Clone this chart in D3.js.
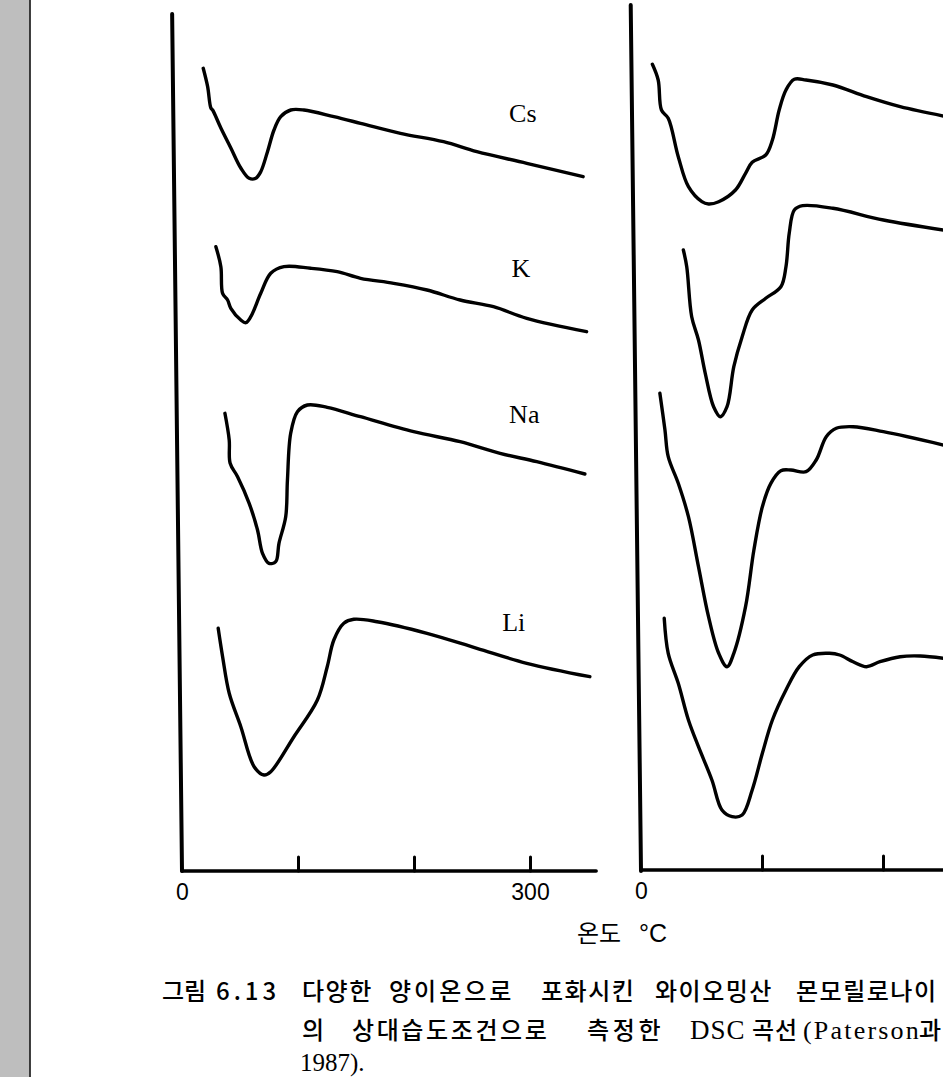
<!DOCTYPE html>
<html><head><meta charset="utf-8">
<script src="https://cdn.jsdelivr.net/npm/d3@7"></script>
<style>html,body{margin:0;padding:0;background:#fff;} svg{display:block}</style>
</head><body><svg id="c" width="943" height="1077"></svg>
<script>
// ---------- data (temperature °C, heat-flow in arbitrary units) ----------
const ions = ["Cs", "K", "Na", "Li"];
const leftTicks = [0, 100, 200, 300];
const leftTickLabels = ["0", "", "", "300"];
const rightTicks = [0, 100, 200];
const rightTickLabels = ["0", "", ""];

const leftCs = [[18.3,801.7],[22.1,783.3],[24.9,762],[26.4,760],[33.5,742],[42.1,722],[50.7,702],[57.9,691.7],[63.6,691.7],[67.9,698.3],[73.7,718.3],[79.3,740],[85.1,753.3],[93.7,760],[105.1,760],[130.9,753.3],[153.9,746.7],[188.3,736.7],[225.5,728.3],[254.2,718.3],[297.2,706.7],[345.8,693.3]];
const leftK = [[29.2,623.3],[33.5,603.3],[35.0,576.7],[39.3,570],[42.1,561.7],[50.7,550],[55.0,547.3],[59.3,553.3],[67.9,576.7],[76.5,596.7],[87.9,603.3],[110.9,601.7],[133.8,598.3],[153.9,591.7],[182.5,586.7],[211.2,580],[239.8,570],[268.5,563.3],[297.2,551.7],[348.8,538.3]];
const leftNa = [[37.0,456.7],[40.7,430],[41.5,406.7],[47.9,393.3],[57.9,366.7],[65.1,340],[69.4,316.7],[75.0,306.7],[80.8,308.3],[83.6,326.7],[89.4,353.3],[90.9,390],[93.7,436.7],[99.5,458.3],[108.1,465],[125.2,462.7],[153.9,453.3],[199.7,438.3],[239.8,428.3],[274.2,416.7],[305.8,408.3],[347.3,396]];
const leftLi = [[31.2,241.7],[35.0,213.3],[40.7,176.7],[50.7,143.3],[62.2,103.3],[70.7,95],[76.5,98.3],[96.5,133.3],[116.7,170],[125.2,203.3],[130.9,230],[139.5,246.7],[148.1,250.7],[168.2,248.3],[211.2,236.7],[254.2,221.7],[297.2,206.7],[351.6,193.3]];

const rightCs = [[9.4,805.7],[14.2,790],[16.9,760],[22.5,751.7],[30.8,713.3],[39.2,683.3],[50.3,668.3],[55.8,666],[64.2,668.3],[78.1,680],[86.4,696.7],[91.9,707.7],[103.1,715],[108.6,730],[114.2,760],[119.8,780],[126.7,790.7],[136.4,790],[158.6,785],[186.4,773.3],[214.2,763.3],[250,754]];
const rightK = [[35.0,620],[37.8,603.3],[41.9,553.3],[47.5,530],[53.1,496.7],[60.0,463.3],[65.6,453.3],[71.1,463.3],[76.7,503.3],[83.6,533.3],[91.9,560],[103.1,571.7],[115.6,583.3],[119.8,603.3],[122.5,636.7],[126.7,660],[133.6,664.3],[158.6,661.7],[200.3,650],[250,640]];
const rightNa = [[15.6,476.7],[19.8,440],[22.5,413.3],[30.8,386.7],[39.2,353.3],[47.5,303.3],[55.8,253.3],[64.2,216.7],[71.1,203.3],[76.7,216.7],[86.4,263.3],[93.3,320],[100.3,363.3],[107.3,386.7],[115.6,399.3],[123.9,400],[136.4,398.3],[144.8,410],[153.1,433.3],[161.4,441.7],[175.3,443.3],[200.3,438.3],[250,425]];
const rightLi = [[19.2,251.7],[22.5,216.7],[30.8,186.7],[39.2,150],[47.5,123.3],[58.6,90],[66.9,60],[75.3,53.3],[83.6,55],[91.9,80],[100.3,116.7],[108.6,150],[119.8,180],[130.8,203.3],[141.9,215],[155.8,216.7],[164.2,215],[175.3,208.3],[186.4,203.3],[197.5,208.3],[214.2,213.3],[230.8,214],[250,211.7]];

const leftSeries = [leftCs, leftK, leftNa, leftLi];
const rightSeries = [rightCs, rightK, rightNa, rightLi];
const labelAnchors = [[282,748],[284,593],[282,447],[276,239]]; // (°C, units) of ion labels

// ---------- drawing ----------
const svg = d3.select("#c");
svg.append("rect").attr("width", 943).attr("height", 1077).attr("fill", "#fff");
svg.append("rect").attr("x", 0).attr("y", 0).attr("width", 29.5).attr("height", 1077).attr("fill", "#bebebe");
svg.append("line").attr("x1", 30).attr("x2", 30).attr("y1", 0).attr("y2", 1077).attr("stroke", "#000").attr("stroke-width", 1.5);

const xL = d3.scaleLinear().domain([0, 300]).range([182, 530]);
const xR = d3.scaleLinear().domain([0, 200]).range([641, 883]);
const y = d3.scaleLinear().domain([0, 870]).range([870, 0]);

const line = (xs) => d3.line().x(d => xs(d[0])).y(d => y(d[1])).curve(d3.curveCatmullRom.alpha(0.5));

function panel(xs, series, ticks, tickLabels, yTop, yTilt, xEnd, axisY) {
  const g = svg.append("g");
  g.append("path")
    .attr("d", d3.line().x(d => xs(d[0])).y(d => y(d[1]))([[yTilt, yTop], [0, -1]]))
    .attr("stroke", "#000").attr("stroke-width", 4).attr("stroke-linecap", "round").attr("fill", "none");
  g.append("path")
    .attr("d", d3.line().x(d => xs(d[0])).y(d => y(d[1]))([[0, axisY], [xEnd, axisY]]))
    .attr("stroke", "#000").attr("stroke-width", 3.6).attr("stroke-linecap", "round").attr("fill", "none");
  const ax = d3.axisBottom(xs).tickValues(ticks).tickSizeInner(-14).tickSizeOuter(0).tickPadding(13)
    .tickFormat((d, i) => tickLabels[i]);
  const ag = g.append("g").attr("transform", `translate(0,${y(axisY)})`).call(ax);
  ag.select(".domain").remove();
  ag.selectAll(".tick line").attr("stroke", "#000").attr("stroke-width", 3).attr("stroke-linecap", "round")
    .filter(d => d === 0).remove();
  ag.selectAll(".tick text").attr("font-family", "'Liberation Sans', Arial, sans-serif").attr("font-size", 23).attr("fill", "#000");
  g.selectAll("path.curve").data(series).join("path").attr("class", "curve")
    .attr("d", d => line(xs)(d))
    .attr("fill", "none").attr("stroke", "#000").attr("stroke-width", 3.4)
    .attr("stroke-linejoin", "round").attr("stroke-linecap", "round");
  return g;
}

const gl = panel(xL, leftSeries, leftTicks, leftTickLabels, 856, -8.5, 357, -1);
panel(xR, rightSeries, rightTicks, rightTickLabels, 865, -8.5, 270, 0);

gl.selectAll("text.ion").data(ions).join("text").attr("class", "ion")
  .attr("x", (d, i) => xL(labelAnchors[i][0]))
  .attr("y", (d, i) => y(labelAnchors[i][1]))
  .attr("font-family", "'Liberation Serif', 'Times New Roman', serif")
  .attr("font-size", 26).attr("fill", "#000")
  .text(d => d);

// axis title
const at = svg.append("text").attr("x", 577).attr("y", 942)
  .attr("font-family", "'Noto Sans CJK KR', sans-serif").attr("font-size", 24).attr("fill", "#000");
at.append("tspan").text("온도");
at.append("tspan").attr("x", 639).attr("font-family", "'Liberation Sans', Arial, sans-serif").attr("font-size", 25).text("°C");

// caption
const kr = "'Noto Sans CJK KR', sans-serif";
const serif = "'Liberation Serif', 'Times New Roman', serif";
const t1 = svg.append("text").attr("y", 1000).attr("font-family", kr).attr("font-size", 24).attr("font-weight", 500)
  .attr("letter-spacing", 1.5).attr("fill", "#000");
t1.append("tspan").attr("x", 162).attr("letter-spacing", 0).text("그림");
t1.append("tspan").attr("x", 216).attr("letter-spacing", 4).text("6.13");
t1.append("tspan").attr("x", 302).text("다양한");
t1.append("tspan").attr("x", 389).attr("letter-spacing", 3).text("양이온으로");
t1.append("tspan").attr("x", 541).text("포화시킨");
t1.append("tspan").attr("x", 655).text("와이오밍산");
t1.append("tspan").attr("x", 796).text("몬모릴로나이");

const t2 = svg.append("text").attr("y", 1039).attr("font-family", kr).attr("font-size", 24).attr("font-weight", 500)
  .attr("letter-spacing", 2.6).attr("fill", "#000");
t2.append("tspan").attr("x", 302).text("의");
t2.append("tspan").attr("x", 352).text("상대습도조건으로");
t2.append("tspan").attr("x", 587).attr("letter-spacing", 3.7).text("측정한");
t2.append("tspan").attr("x", 690).attr("font-family", serif).attr("font-size", 27).attr("letter-spacing", 1).text("DSC");
t2.append("tspan").attr("x", 752).attr("letter-spacing", 1).text("곡선");
t2.append("tspan").attr("x", 803).attr("font-family", serif).attr("font-size", 26).attr("letter-spacing", 2.2).text("(Paterson");
t2.append("tspan").attr("x", 919).attr("letter-spacing", 0).text("과");

svg.append("text").attr("x", 300).attr("y", 1071).attr("font-family", serif).attr("font-size", 25).attr("fill", "#000").text("1987).");
</script></body></html>
